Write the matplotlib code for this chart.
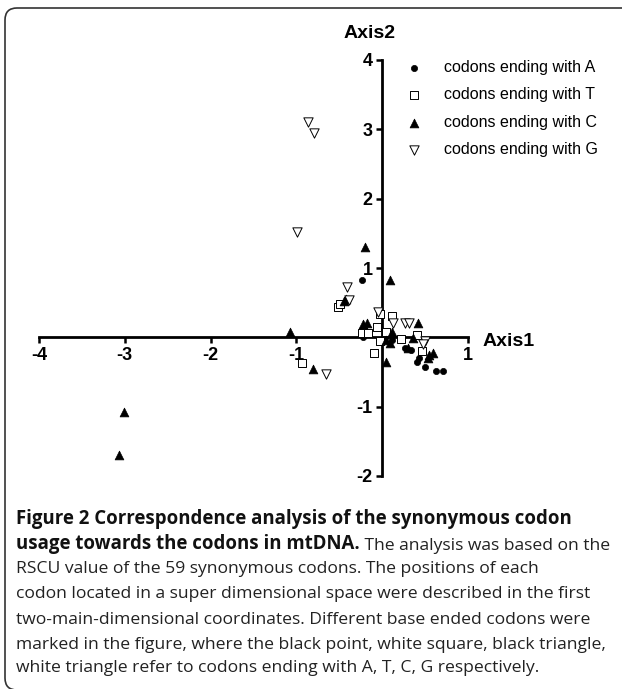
import matplotlib
matplotlib.use("Agg")
import matplotlib.pyplot as plt
from matplotlib.patches import FancyBboxPatch
from matplotlib.transforms import IdentityTransform

# correspondence analysis coordinates (Axis1, Axis2)
a_x = [-0.24, -0.22, 0.00, 0.04, 0.12, 0.26, 0.34, 0.40, 0.43, 0.50, 0.63, 0.71]
a_y = [0.83, 0.01, -0.04, 0.02, -0.04, -0.16, -0.18, -0.35, -0.30, -0.43, -0.49, -0.49]

t_x = [-0.93, -0.52, -0.49, -0.22, -0.24, -0.17, -0.06, -0.02, 0.11, 0.04, -0.03,
       -0.09, 0.22, 0.40, 0.46]
t_y = [-0.37, 0.44, 0.48, 0.08, 0.06, 0.06, 0.15, 0.34, 0.31, 0.07, -0.06,
       -0.22, -0.03, 0.04, -0.20]

c_x = [-3.01, -3.07, -1.07, -0.81, -0.20, 0.09, -0.45, -0.42, -0.22, -0.18,
       0.42, 0.05, 0.11, 0.36, 0.55, 0.59, 0.30, 0.05, 0.09, 0.53]
c_y = [-1.07, -1.69, 0.08, -0.46, 1.31, 0.82, 0.52, 0.55, 0.19, 0.20,
       0.21, -0.35, 0.07, -0.01, -0.25, -0.23, -0.16, -0.04, -0.08, -0.30]

g_x = [-0.86, -0.79, -0.99, -0.41, -0.39, -0.66, -0.05, 0.13, 0.26, 0.31, 0.50, 0.47]
g_y = [3.10, 2.94, 1.52, 0.72, 0.54, -0.53, 0.36, 0.20, 0.20, 0.20, -0.06, -0.10]

x_ticks = [-4, -3, -2, -1, 1]
y_ticks = [-2, -1, 1, 2, 3, 4]

caption = [
    ("Figure 2 Correspondence analysis of the synonymous codon", ""),
    ("usage towards the codons in mtDNA.", " The analysis was based on the"),
    ("", "RSCU value of the 59 synonymous codons. The positions of each"),
    ("", "codon located in a super dimensional space were described in the first"),
    ("", "two-main-dimensional coordinates. Different base ended codons were"),
    ("", "marked in the figure, where the black point, white square, black triangle,"),
    ("", "white triangle refer to codons ending with A, T, C, G respectively."),
]

plt.rcParams["axes.unicode_minus"] = False
AX_FONT = ["Liberation Sans", "DejaVu Sans"]
CAP_FONT = ["Open Sans", "DejaVu Sans"]

W, H = 622, 689
fig = plt.figure(figsize=(W / 100, H / 100), dpi=100)

# axes box in pixels: x -4..1 -> 39..468, y 4..-2 -> 60..476
x0, x1, ytop, ybot = 39, 468, 60, 476
ax = fig.add_axes([x0 / W, 1 - ybot / H, (x1 - x0) / W, (ybot - ytop) / H])
ax.set_xlim(-4, 1)
ax.set_ylim(-2, 4)

for s in ("top", "right"):
    ax.spines[s].set_visible(False)
ax.spines["left"].set_position(("data", 0))
ax.spines["bottom"].set_position(("data", 0))
for s in ("left", "bottom"):
    ax.spines[s].set_linewidth(2.0)
    ax.spines[s].set_capstyle("projecting")

ax.set_xticks(x_ticks)
ax.set_yticks(y_ticks)
ax.set_xticklabels([str(v) for v in x_ticks])
ax.set_yticklabels([str(v) for v in y_ticks])
ax.tick_params(direction="out", length=4, width=1.8, pad=3)
for lab in ax.get_xticklabels() + ax.get_yticklabels():
    lab.set_family(AX_FONT)
    lab.set_fontweight("bold")
    lab.set_fontsize(13)

ax.scatter(a_x, a_y, marker="o", s=20, c="black", edgecolors="black",
           linewidths=0.5, clip_on=False, zorder=3, label="codons ending with A")
ax.scatter(t_x, t_y, marker="s", s=26, c="white", edgecolors="black",
           linewidths=0.7, clip_on=False, zorder=3, label="codons ending with T")
ax.scatter(c_x, c_y, marker="^", s=40, c="black", edgecolors="black",
           linewidths=0.5, clip_on=False, zorder=3, label="codons ending with C")
ax.scatter(g_x, g_y, marker="v", s=45, c="white", edgecolors="black",
           linewidths=0.7, clip_on=False, zorder=3, label="codons ending with G")

ax.text(1.17, -0.06, "Axis1", family=AX_FONT, fontweight="bold", fontsize=14,
        ha="left", va="center")
ax.text(-0.15, 4.38, "Axis2", family=AX_FONT, fontweight="bold", fontsize=14,
        ha="center", va="center")

ax.legend(loc="upper left", bbox_to_anchor=(406 / W, 1 - 60 / H),
          bbox_transform=fig.transFigure, frameon=False,
          prop={"family": AX_FONT, "size": 11.5},
          handlelength=1.0, handletextpad=1.4, labelspacing=0.78,
          borderpad=0, borderaxespad=0, scatterpoints=1)

# caption, line by line as in the reference
y_lines = [519, 544, 569, 594, 620, 645, 668]
for (bold, rest), yp in zip(caption, y_lines):
    if bold:
        t = fig.text(16 / W, 1 - yp / H, bold, family=CAP_FONT, fontweight="bold",
                     fontsize=13.4, ha="left", va="center", color="#111111")
        if rest:
            ax.annotate(rest, xy=(1, 0), xycoords=t, ha="left", va="bottom",
                        family=CAP_FONT, fontsize=12.6, color="#222222")
    else:
        fig.text(16 / W, 1 - yp / H, rest, family=CAP_FONT, fontsize=12.6,
                 ha="left", va="center", color="#222222")

# rounded frame around the figure panel (bottom edge just below the image)
frame = FancyBboxPatch((5, -1), 700, 682, boxstyle="round,pad=0,rounding_size=12",
                       transform=IdentityTransform(), fill=False,
                       edgecolor="#333333", linewidth=1.2)
fig.add_artist(frame)

fig.savefig("out.png", dpi=100)
